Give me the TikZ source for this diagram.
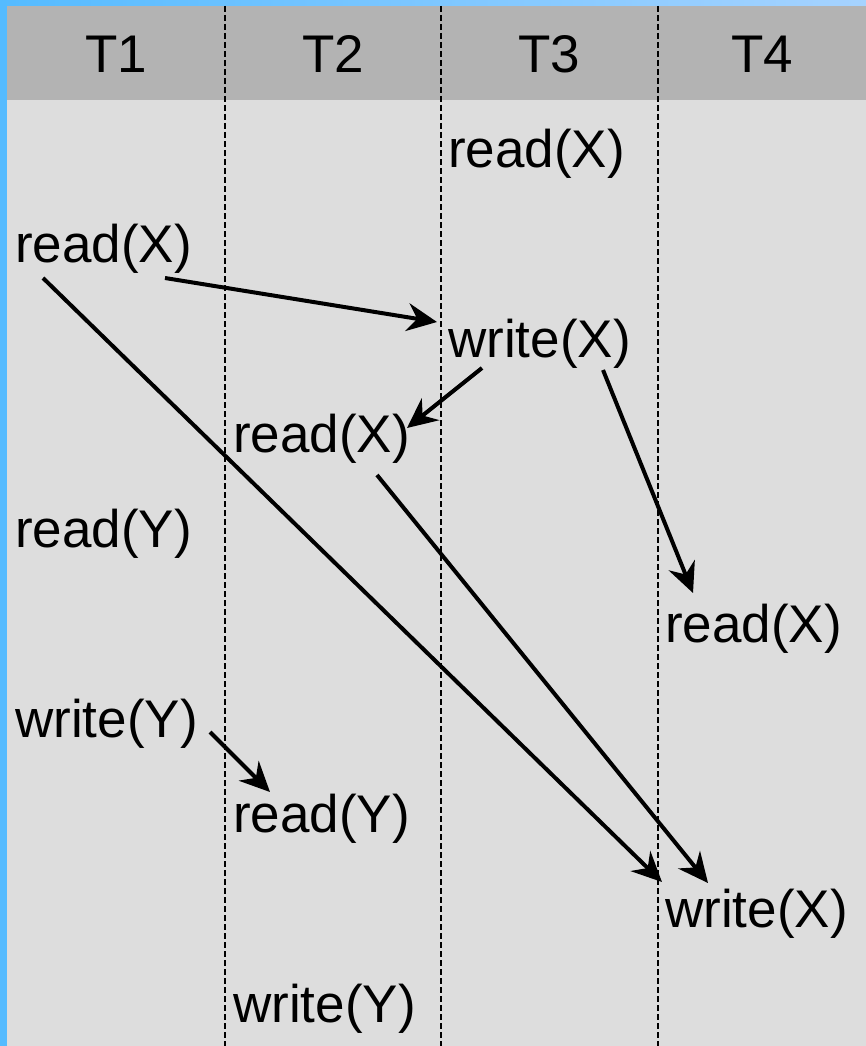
\documentclass[tikz,border=0pt]{standalone}
\usepackage{fontspec}
\setmainfont{Liberation Sans}
\usetikzlibrary{calc,arrows.meta}
\definecolor{frameblue}{HTML}{55BBFF}
\definecolor{frameblue2}{HTML}{A6D3FF}
\definecolor{headgray}{HTML}{B3B3B3}
\definecolor{bodygray}{HTML}{DDDDDD}

\begin{document}
\begin{tikzpicture}[x=1pt,y=-1pt,
  op/.style={anchor=base west,inner sep=0pt,font=\fontsize{53}{60}\selectfont},
  head/.style={anchor=base,inner sep=0pt,font=\fontsize{53}{60}\selectfont},
  divider/.style={dash pattern=on 6pt off 3pt,line width=2.2pt},
  dep/.style={-{Stealth[length=30pt,width=28pt,inset=10pt]},line width=4pt}]
\useasboundingbox (0,0) rectangle (866,1046);
\fill[bodygray] (0,0) rectangle (866,1046);
\fill[headgray] (7,6) rectangle (866,100);
\shade[left color=frameblue,right color=frameblue2] (0,0) rectangle (866,6);
\fill[frameblue] (0,0) rectangle (7,1046);
\foreach \x in {225,441,658} \draw[divider] (\x,6) -- (\x,1046);
\node[head] (t1) at (116,73) {T1};
\node[head] (t2) at (333,73) {T2};
\node[head] (t3) at (549,73) {T3};
\node[head] (t4) at (762,73) {T4};
\node[op] (rx3) at (448,167) {read(X)};
\node[op] (rx1) at (15,262) {read(X)};
\node[op] (wx3) at (448,357) {write(X)};
\node[op] (rx2) at (233,452) {read(X)};
\node[op] (ry1) at (15,547) {read(Y)};
\node[op] (rx4) at (665,642) {read(X)};
\node[op] (wy1) at (15,737) {write(Y)};
\node[op] (ry2) at (233,832) {read(Y)};
\node[op] (wx4) at (665,927) {write(X)};
\node[op] (wy2) at (233,1022) {write(Y)};
\draw[dep] ($(rx1.base west)+(150,16)$) -- ($(wx3.base west)+(-11,-35)$);
\draw[dep] ($(wx3.base west)+(34,11)$) -- ($(rx2.base west)+(174,-24)$);
\draw[dep] ($(wx3.base west)+(155,13)$) -- ($(rx4.base west)+(28,-49)$);
\draw[dep] ($(rx1.base west)+(28,16)$) -- ($(wx4.base west)+(-3,-45)$);
\draw[dep] ($(rx2.base west)+(144,23)$) -- ($(wx4.base west)+(43,-44)$);
\draw[dep] ($(wy1.base west)+(195,-5)$) -- ($(ry2.base west)+(37,-40)$);
\end{tikzpicture}
\end{document}
